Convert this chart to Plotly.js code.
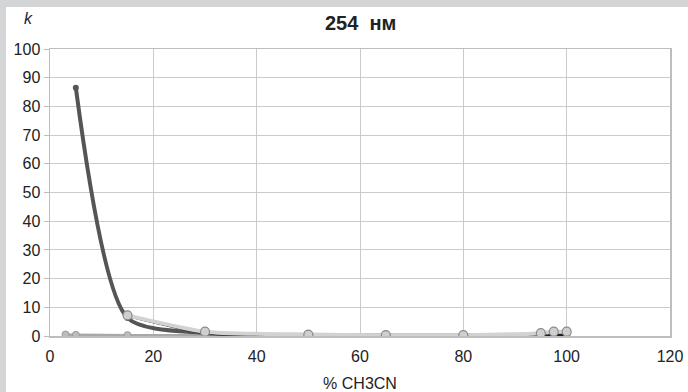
<!DOCTYPE html>
<html><head><meta charset="utf-8">
<script src="https://cdn.plot.ly/plotly-3.0.1.min.js"></script>
<style>
html,body{margin:0;padding:0;background:#d4d5d7;width:688px;height:392px;overflow:hidden}
#chart{position:absolute;left:6px;top:7px;width:682px;height:385px;background:#fff}
</style></head><body>
<div id="chart"></div>
<script>
const xDark = [5, 15, 30, 50, 65, 80, 97.5, 100];
const yDark = [86.5, 6.3, 1, 0.3, 0.2, 0.2, 0.4, 0.3];
const xBlack = [15, 30, 50, 65, 80, 97.5, 100];
const yBlack = [7, 1, 0.3, 0.2, 0.2, 0.3, 0.3];
const xLight = [15, 30, 50, 65, 80, 95, 97.5, 100];
const yLight = [7.2, 1.5, 0.5, 0.3, 0.3, 1, 1.5, 1.5];
const xFlat = [3, 5, 15, 30, 50, 65, 80, 97.5, 100];
const yFlat = [0.5, 0.4, 0.3, 0.3, 0.3, 0.3, 0.3, 0.3, 0.3];
const title = '254  нм';
const xTitle = '% CH3CN';
const yTitle = 'k';

const traces = [
  {x:xFlat, y:yFlat, mode:'lines+markers', line:{color:'#a8a8a8', width:2.5, shape:'spline', smoothing:0.6},
   marker:{color:'#bcbcbc', size:7, line:{color:'#9a9a9a', width:1}}},
  {x:xDark, y:yDark, mode:'lines+markers', line:{color:'#555', width:4, shape:'spline', smoothing:0.7},
   marker:{color:'#555', size:6}},
  {x:xBlack, y:yBlack, mode:'lines', line:{color:'#1e1e1e', width:2.5, shape:'spline', smoothing:0.6}},
  {x:xLight, y:yLight, mode:'lines+markers', line:{color:'#d2d2d2', width:4, shape:'spline', smoothing:0.6},
   marker:{color:'#cfcfcf', size:9, line:{color:'#8a8a8a', width:1.2}}}
];
const layout = {
  width:682, height:385,
  margin:{l:44, r:18, t:42, b:56},
  paper_bgcolor:'#fff', plot_bgcolor:'#fff',
  showlegend:false,
  font:{family:'Liberation Sans, Arial, sans-serif', size:16, color:'#222'},
  title:{text:'<b>'+title+'</b>', x:0.52, xanchor:'center', y:0.958, yanchor:'middle', font:{size:20, color:'#222'}},
  xaxis:{range:[0,120], dtick:20, tick0:0, showgrid:true, gridcolor:'#cbcbcb', gridwidth:1,
    showline:true, mirror:true, linecolor:'#bdbdbd', linewidth:1.5, zeroline:false, ticks:'outside', ticklen:0, ticklabelstandoff:5,
    tickfont:{size:16}, title:{text:xTitle, standoff:14, font:{size:16}}},
  yaxis:{range:[0,100], dtick:10, tick0:0, showgrid:true, gridcolor:'#cbcbcb', gridwidth:1,
    showline:true, mirror:true, linecolor:'#bdbdbd', linewidth:1.5, zeroline:false, ticks:'outside', ticklen:5, tickcolor:'#bdbdbd',
    tickfont:{size:16}},
  annotations:[{text:'<i>'+yTitle+'</i>', xref:'paper', yref:'paper', x:-0.035, y:1.108, showarrow:false,
    xanchor:'center', yanchor:'middle', font:{size:16, color:'#222'}}]
};
Plotly.newPlot('chart', traces, layout, {displayModeBar:false, staticPlot:true});
</script></body></html>
